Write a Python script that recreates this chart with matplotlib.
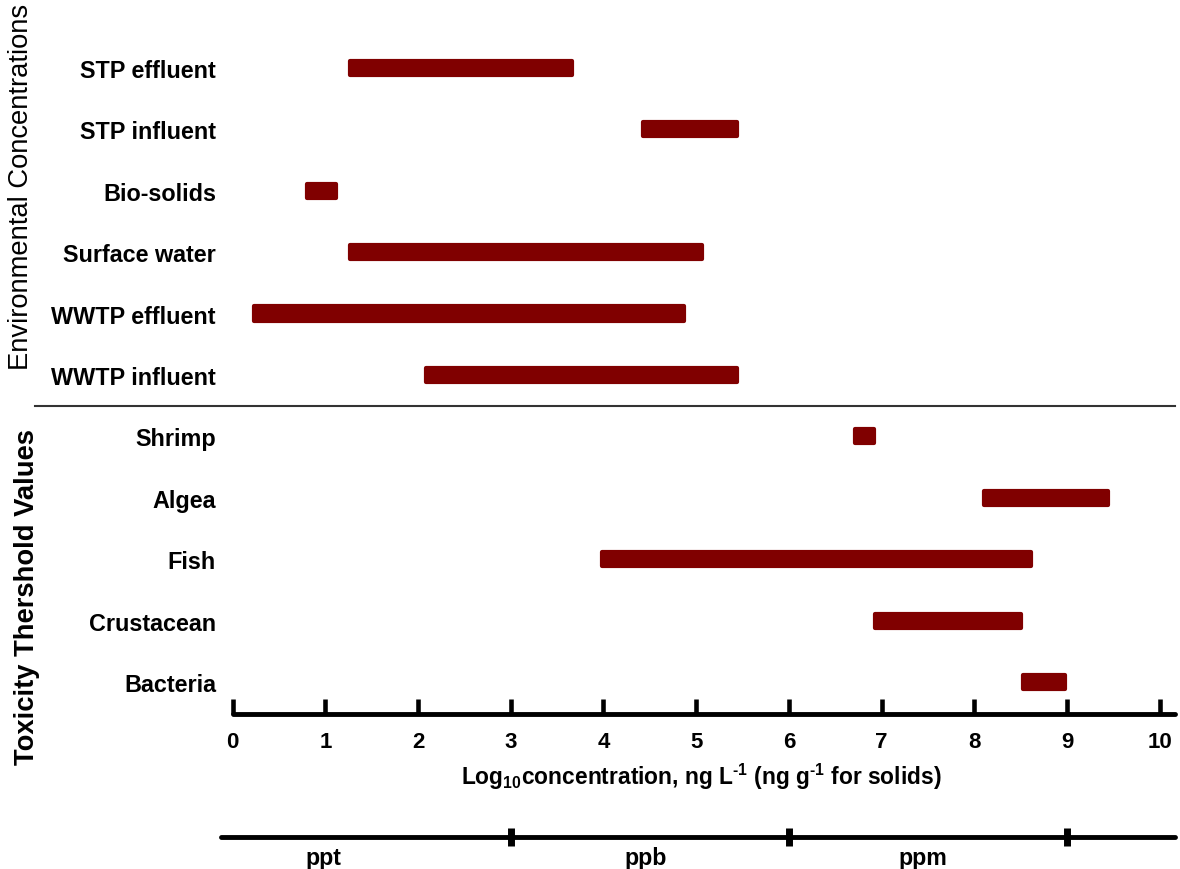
import matplotlib
matplotlib.use('Agg')
import matplotlib.pyplot as plt

plt.rcParams['font.family'] = ['Liberation Sans', 'DejaVu Sans']
plt.rcParams['mathtext.fontset'] = 'custom'
plt.rcParams['mathtext.rm'] = 'Liberation Sans:bold'
plt.rcParams['mathtext.default'] = 'rm'

# categories, top to bottom
categories = ['STP effluent', 'STP influent', 'Bio-solids', 'Surface water',
              'WWTP effluent', 'WWTP influent',
              'Shrimp', 'Algea', 'Fish', 'Crustacean', 'Bacteria']
n_env = 6   # first 6 are environmental concentrations
# log10 concentration ranges (low, high)
lows = [1.27, 4.43, 0.80, 1.27, 0.23, 2.09, 6.71, 8.10, 3.98, 6.93, 8.53]
highs = [3.66, 5.44, 1.11, 5.06, 4.87, 5.44, 6.92, 9.44, 8.61, 8.50, 8.98]
xticks = list(range(0, 11))
units = ['ppt', 'ppb', 'ppm']
unit_pos = [0.98, 4.46, 7.44]
unit_ticks = [3, 6, 9]

barcol = '#800000'
ypos = list(range(len(categories) - 1, -1, -1))

fig = plt.figure(figsize=(11.8, 8.7), dpi=100)
ax = fig.add_axes([0.1854, 0.0032, 0.8131, 0.9811])

widths = [h - l for l, h in zip(lows, highs)]
ax.barh(ypos, widths, left=lows, height=0.23, color=barcol,
        edgecolor=barcol, linewidth=3, joinstyle='round')

ax.set_xlim(-0.15, 10.2)
ax.set_ylim(-3.0, 10.9)

# y labels
ax.set_yticks(ypos)
ax.set_yticklabels(categories, fontsize=16.8, fontweight='bold')
ax.tick_params(axis='y', length=0, pad=2)

# bottom axis
for s in ['top', 'right', 'left']:
    ax.spines[s].set_visible(False)
ax.spines['bottom'].set_position(('data', -0.52))
ax.spines['bottom'].set_bounds(0, 10.17)
ax.spines['bottom'].set_linewidth(3.5)
ax.spines['bottom'].set_capstyle('round')
ax.set_xticks(xticks)
ax.set_xticklabels([str(t) for t in xticks], fontsize=16, fontweight='bold')
ax.tick_params(axis='x', direction='in', length=11, width=3.3, pad=12)

ax.text(5.05, -1.53,
        'Log$_{10}$concentration, ng L$^{\u20101}$ (ng g$^{\u20101}$ for solids)',
        ha='center', va='center', fontsize=16.4, fontweight='bold')

# separator line between groups
sep = ypos[n_env - 1] - 0.5
ax.plot([-2.13, 10.17], [sep, sep], color='#333333', lw=1.5, clip_on=False)

# ppt / ppb / ppm scale
ax.plot([-0.13, 10.17], [-2.52, -2.52], color='black', lw=3.5,
        solid_capstyle='round', clip_on=False)
ax.plot(unit_ticks, [-2.52] * len(unit_ticks), ls='none', marker='|',
        markersize=13, markeredgewidth=5, color='black', clip_on=False)
for u, p in zip(units, unit_pos):
    ax.text(p, -2.86, u, ha='center', va='center', fontsize=16.7, fontweight='bold')

# group titles
fig.text(21 / 1180, 1 - 187 / 870, 'Environmental Concentrations', rotation=90,
         ha='center', va='center', fontsize=19.7)
fig.text(27 / 1180, 1 - 597 / 870, 'Toxicity Thershold Values', rotation=90,
         ha='center', va='center', fontsize=19.7, fontweight='bold')

fig.savefig('out.png', dpi=100)
